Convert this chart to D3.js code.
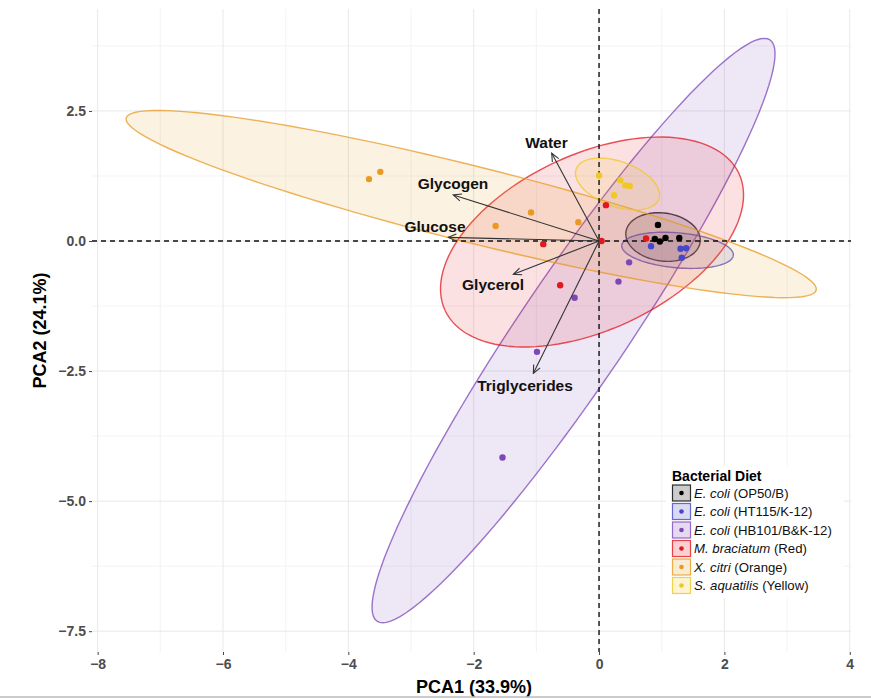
<!DOCTYPE html>
<html>
<head>
<meta charset="utf-8">
<script src="https://cdn.jsdelivr.net/npm/d3@7"></script>
<style>
  body { margin: 0; background: #fff; }
  svg { display: block; font-family: "Liberation Sans", Arial, sans-serif; }
</style>
</head>
<body>
<svg width="871" height="699"></svg>
<script>
const width = 871
const height = 699

// Bacterial diet groups (legend order)
const dietSpecies = ["E. coli", "E. coli", "E. coli", "M. braciatum", "X. citri", "S. aquatilis"]
const dietStrain = ["(OP50/B)", "(HT115/K-12)", "(HB101/B&K-12)", "(Red)", "(Orange)", "(Yellow)"]
const dietColors = ["#000000", "#4646C8", "#7E47B8", "#E3171F", "#E89A22", "#F0C823"]

// PCA scores, one entry per worm sample
const sampleDiet = [0, 0, 0, 0, 0,
                    1, 1, 1, 1,
                    2, 2, 2, 2, 2,
                    3, 3, 3, 3, 3,
                    4, 4, 4, 4, 4,
                    5, 5, 5, 5, 5]
const samplePC1 = [0.94, 0.89, 0.97, 1.06, 1.28,
                   0.83, 1.30, 1.39, 1.32,
                   0.48, 0.31, -0.39, -0.99, -1.54,
                   0.11, 0.04, -0.89, -0.62, 0.75,
                   -3.67, -3.49, -1.085, -1.65, -0.33,
                   0.0, 0.34, 0.42, 0.49, 0.24]
const samplePC2 = [0.31, 0.04, -0.01, 0.06, 0.06,
                   -0.10, -0.15, -0.14, -0.32,
                   -0.41, -0.78, -1.09, -2.13, -4.16,
                   0.69, 0.0, -0.06, -0.85, 0.05,
                   1.19, 1.33, 0.55, 0.29, 0.36,
                   1.26, 1.17, 1.07, 1.06, 0.88]

// 95% ellipses per diet: centre and the two half-axis vectors (PC units)
const ellipseCx = [1.021, 1.253, -0.407, -0.112, -2.04, 0.295]
const ellipseCy = [0.077, -0.179, -1.721, -0.019, 0.71, 1.096]
const ellipseUx = [0.592, 0.890, 3.135, 2.344, 5.505, 0.660]
const ellipseUy = [-0.100, -0.094, 5.587, 1.317, -1.654, -0.289]
const ellipseVx = [-0.053, -0.024, 0.713, 0.592, -0.147, -0.123]
const ellipseVy = [-0.457, -0.335, -0.581, -1.529, -0.709, -0.406]

// Variable loadings (arrow tips) and their label positions
const loadingNames = ["Water", "Glycogen", "Glucose", "Glycerol", "Triglycerides"]
const loadingX = [-0.755, -2.325, -2.405, -1.367, -1.048]
const loadingY = [1.687, 0.885, 0.071, -0.640, -2.544]
const loadingLabelX = [-0.838, -2.330, -2.617, -1.691, -1.181]
const loadingLabelY = [1.898, 1.096, 0.269, -0.846, -2.788]

// Axis ticks
const xMajor = [-8, -6, -4, -2, 0, 2, 4]
const xMinor = [-7, -5, -3, -1, 1, 3]
const yMajor = [-7.5, -5, -2.5, 0, 2.5]
const yMinor = [-6.25, -3.75, -1.25, 1.25, 3.75]

const panel = { left: 92, right: 851, top: 9, bottom: 652 }

const x = d3.scaleLinear().domain([-8.09, 4.02]).range([panel.left, panel.right])
const y = d3.scaleLinear().domain([4.46, -7.9]).range([panel.top, panel.bottom])

const svg = d3.select("svg")

svg.append("rect").attr("width", width).attr("height", height).attr("fill", "#fff")

const defs = svg.append("defs")
defs.append("clipPath").attr("id", "panel-clip")
    .append("rect")
    .attr("x", panel.left).attr("y", panel.top)
    .attr("width", panel.right - panel.left).attr("height", panel.bottom - panel.top)

defs.append("marker")
    .attr("id", "arrow")
    .attr("viewBox", "0 -5 10 10")
    .attr("refX", 9)
    .attr("refY", 0)
    .attr("markerUnits", "userSpaceOnUse")
    .attr("markerWidth", 10)
    .attr("markerHeight", 10)
    .attr("orient", "auto")
    .append("path")
    .attr("d", "M1,-3.6L9,0L1,3.6")
    .attr("fill", "none")
    .attr("stroke", "#333")
    .attr("stroke-width", 1.1)

// Grid
const grid = svg.append("g")
grid.selectAll(".xminor").data(xMinor).enter().append("line")
    .attr("x1", d => x(d)).attr("x2", d => x(d))
    .attr("y1", panel.top).attr("y2", panel.bottom)
    .attr("stroke", "#F0F0F0").attr("stroke-width", 0.8)
grid.selectAll(".yminor").data(yMinor).enter().append("line")
    .attr("y1", d => y(d)).attr("y2", d => y(d))
    .attr("x1", panel.left).attr("x2", panel.right)
    .attr("stroke", "#F0F0F0").attr("stroke-width", 0.8)
grid.selectAll(".xmajor").data(xMajor).enter().append("line")
    .attr("x1", d => x(d)).attr("x2", d => x(d))
    .attr("y1", panel.top).attr("y2", panel.bottom)
    .attr("stroke", "#E8E8E8").attr("stroke-width", 1)
grid.selectAll(".ymajor").data(yMajor).enter().append("line")
    .attr("y1", d => y(d)).attr("y2", d => y(d))
    .attr("x1", panel.left).attr("x2", panel.right)
    .attr("stroke", "#E8E8E8").attr("stroke-width", 1)

// Ellipses
function ellipsePoints(i) {
    const pts = []
    for (let k = 0; k < 120; k++) {
        const t = k / 120 * 2 * Math.PI
        pts.push([
            ellipseCx[i] + Math.cos(t) * ellipseUx[i] + Math.sin(t) * ellipseVx[i],
            ellipseCy[i] + Math.cos(t) * ellipseUy[i] + Math.sin(t) * ellipseVy[i]
        ])
    }
    return pts
}

const ellipseLine = d3.line()
    .x(d => x(d[0]))
    .y(d => y(d[1]))
    .curve(d3.curveLinearClosed)

svg.append("g")
    .attr("clip-path", "url(#panel-clip)")
    .selectAll("path")
    .data(d3.range(dietSpecies.length))
    .enter()
    .append("path")
    .attr("d", i => ellipseLine(ellipsePoints(i)))
    .attr("fill", i => dietColors[i])
    .attr("fill-opacity", 0.13)
    .attr("stroke", i => dietColors[i])
    .attr("stroke-opacity", 0.75)
    .attr("stroke-width", 1.4)

// Reference lines
svg.append("line")
    .attr("x1", panel.left).attr("x2", panel.right)
    .attr("y1", y(0)).attr("y2", y(0))
    .attr("stroke", "#111").attr("stroke-width", 1.4).attr("stroke-dasharray", "5,4")
svg.append("line")
    .attr("x1", x(0)).attr("x2", x(0))
    .attr("y1", panel.top).attr("y2", panel.bottom)
    .attr("stroke", "#111").attr("stroke-width", 1.4).attr("stroke-dasharray", "5,4")

// Samples
svg.append("g")
    .selectAll("circle")
    .data(d3.range(samplePC1.length))
    .enter()
    .append("circle")
    .attr("cx", i => x(samplePC1[i]))
    .attr("cy", i => y(samplePC2[i]))
    .attr("r", 3.2)
    .attr("fill", i => dietColors[sampleDiet[i]])

// Loadings
svg.append("g")
    .selectAll("line")
    .data(loadingNames)
    .enter()
    .append("line")
    .attr("x1", x(0)).attr("y1", y(0))
    .attr("x2", (d, i) => x(loadingX[i]))
    .attr("y2", (d, i) => y(loadingY[i]))
    .attr("stroke", "#333")
    .attr("stroke-width", 1.1)
    .attr("marker-end", "url(#arrow)")

svg.append("g")
    .selectAll("text")
    .data(loadingNames)
    .enter()
    .append("text")
    .attr("x", (d, i) => x(loadingLabelX[i]))
    .attr("y", (d, i) => y(loadingLabelY[i]))
    .attr("dy", "0.35em")
    .attr("text-anchor", "middle")
    .attr("font-size", 15.5)
    .attr("font-weight", "bold")
    .attr("fill", "#111")
    .text(d => d)

// Axes
const xAxis = svg.append("g")
    .attr("transform", `translate(0,${panel.bottom})`)
    .call(d3.axisBottom(x).tickValues(xMajor).tickSize(3).tickPadding(4).tickFormat(d3.format("d")))
const yAxis = svg.append("g")
    .attr("transform", `translate(${panel.left},0)`)
    .call(d3.axisLeft(y).tickValues(yMajor).tickSize(3).tickPadding(3).tickFormat(d3.format(".1f")))

for (const ax of [xAxis, yAxis]) {
    ax.select(".domain").remove()
    ax.selectAll(".tick line").attr("stroke", "#444")
    ax.selectAll(".tick text")
        .attr("fill", "#4D4D4D")
        .attr("font-size", 14)
        .attr("font-weight", "bold")
        .attr("font-family", "Liberation Sans, Arial, sans-serif")
}

svg.append("text")
    .attr("x", 474)
    .attr("y", 693)
    .attr("text-anchor", "middle")
    .attr("font-size", 18)
    .attr("font-weight", "bold")
    .text("PCA1 (33.9%)")

svg.append("text")
    .attr("transform", `translate(46,${(panel.top + panel.bottom) / 2}) rotate(-90)`)
    .attr("text-anchor", "middle")
    .attr("font-size", 18)
    .attr("font-weight", "bold")
    .text("PCA2 (24.1%)")

// Legend
const legend = svg.append("g").attr("transform", "translate(668,466)")
legend.append("rect")
    .attr("x", -2).attr("y", 0)
    .attr("width", 178).attr("height", 132)
    .attr("fill", "#fff")
legend.append("text")
    .attr("x", 4).attr("y", 15)
    .attr("font-size", 14)
    .attr("font-weight", "bold")
    .text("Bacterial Diet")

const keys = legend.selectAll(".key")
    .data(d3.range(dietSpecies.length))
    .enter()
    .append("g")
    .attr("transform", i => `translate(4,${27 + i * 18.5})`)
keys.append("rect")
    .attr("x", 0.5).attr("y", -8)
    .attr("width", 18).attr("height", 16)
    .attr("fill", i => dietColors[i])
    .attr("fill-opacity", 0.2)
    .attr("stroke", i => dietColors[i])
    .attr("stroke-opacity", 0.8)
    .attr("stroke-width", 1.2)
keys.append("circle")
    .attr("cx", 9.5).attr("cy", 0)
    .attr("r", 2.3)
    .attr("fill", i => dietColors[i])
const keyText = keys.append("text")
    .attr("x", 22).attr("y", 4.5)
    .attr("font-size", 13.2)
    .attr("fill", "#111")
keyText.append("tspan").attr("font-style", "italic").text(i => dietSpecies[i])
keyText.append("tspan").text(i => " " + dietStrain[i])

// bottom border of the figure
svg.append("line")
    .attr("x1", 0).attr("x2", width)
    .attr("y1", 697).attr("y2", 697)
    .attr("stroke", "#bbb").attr("stroke-width", 1.5)
</script>
</body>
</html>
